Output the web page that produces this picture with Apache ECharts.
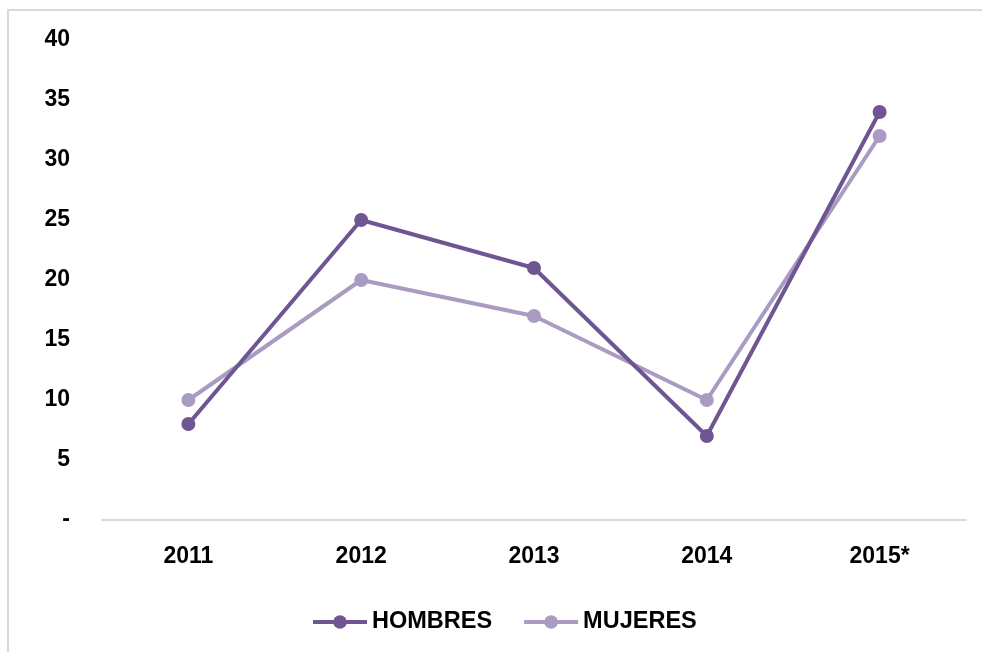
<!DOCTYPE html>
<html><head><meta charset="utf-8">
<script src="https://cdn.jsdelivr.net/npm/echarts@6/dist/echarts.min.js"></script>
<style>html,body{margin:0;padding:0;background:#fff}#c{width:982px;height:652px}</style>
</head><body><div id="c"></div>
<script>
const categories = ['2011', '2012', '2013', '2014', '2015*'];
const hombres = [8, 25, 21, 7, 34];
const mujeres = [10, 20, 17, 10, 32];
const seriesNames = ['HOMBRES', 'MUJERES'];

const chart = echarts.init(document.getElementById('c'));
const font = 'Liberation Sans, Arial, sans-serif';
chart.setOption({
  animation: false,
  graphic: [{
    type: 'rect', shape: {x: 8, y: 10, width: 990, height: 660},
    style: {fill: 'none', stroke: '#d9d9d9', lineWidth: 2}, silent: true
  }],
  grid: {left: 102, right: 16, top: 40, bottom: 132},
  legend: {
    data: seriesNames, top: 605, left: 306, itemWidth: 54, itemHeight: 17, itemGap: 30,
    lineStyle: {width: 4},
    textStyle: {fontFamily: font, fontWeight: 'bold', fontSize: 23.5, color: '#000'}
  },
  xAxis: {
    type: 'category', data: categories, boundaryGap: true,
    axisLine: {lineStyle: {color: '#d9d9d9', width: 2}},
    axisTick: {show: false},
    axisLabel: {fontFamily: font, fontWeight: 'bold', fontSize: 23, color: '#000', margin: 25}
  },
  yAxis: {
    type: 'value', min: 0, max: 40, interval: 5,
    splitLine: {show: false}, axisLine: {show: false}, axisTick: {show: false},
    axisLabel: {fontFamily: font, fontWeight: 'bold', fontSize: 23, color: '#000', margin: 32,
      formatter: v => v === 0 ? '-' : v}
  },
  series: [
    {name: seriesNames[0], type: 'line', data: hombres, symbol: 'circle', symbolSize: 14,
     lineStyle: {width: 4, color: '#6f5592'}, itemStyle: {color: '#6f5592'}, z: 3},
    {name: seriesNames[1], type: 'line', data: mujeres, symbol: 'circle', symbolSize: 14,
     lineStyle: {width: 4, color: '#a99bc1'}, itemStyle: {color: '#a99bc1'}, z: 2}
  ]
});
</script></body></html>
